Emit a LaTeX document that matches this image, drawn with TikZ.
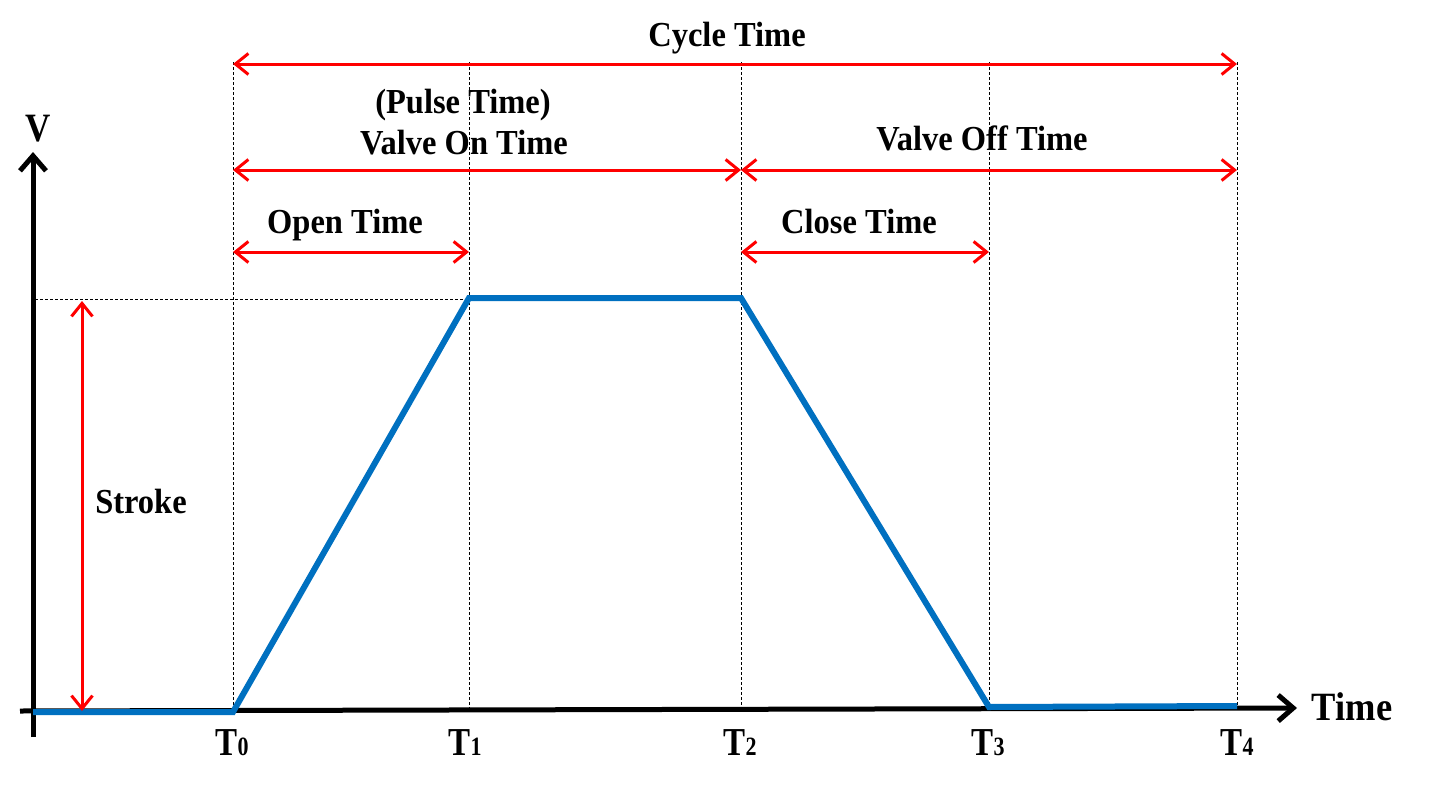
\documentclass[tikz,border=0pt]{standalone}
\usepackage{fontspec}
\usepackage{graphicx}
\setmainfont{Liberation Serif}
\usetikzlibrary{arrows.meta}
\tikzset{
  lbl/.style={font=\bfseries\fontsize{32.5}{36}\selectfont, inner sep=0pt, anchor=base},
  tlbl/.style={font=\bfseries\fontsize{33}{36}\selectfont, inner sep=0pt, anchor=base},
  dim/.style={draw=red, line width=3pt, {Straight Barb[length=13pt,width=21pt,line width=3pt]}-{Straight Barb[length=13pt,width=21pt,line width=3pt]}},
  guide/.style={draw=black, line width=1pt, dash pattern=on 3pt off 2pt},
  axis/.style={draw=black, line width=5pt, -{Straight Barb[length=15pt,width=26pt,line width=5pt]}},
  signal/.style={draw={rgb,255:red,0;green,112;blue,192}, line width=6pt, line join=miter},
}
\newcommand{\vs}[2][1.08]{\scalebox{1}[#1]{#2}}
\newcommand{\Tsub}[1]{\scalebox{1}[1.2]{T{\fontsize{22}{24}\selectfont #1}}}
\begin{document}
\begin{tikzpicture}[x=1pt,y=-1pt]
\useasboundingbox[fill=white] (0,0) rectangle (1438,787);
% key coordinates
\coordinate (O) at (33,712);
\coordinate (Ytop) at (33,152);
\coordinate (Ybot) at (33,737);
\coordinate (Xleft) at (20,711);
\coordinate (Xright) at (1297,708);
\coordinate (A0) at (233,712);
\coordinate (A1) at (469,298);
\coordinate (A2) at (741,298);
\coordinate (A3) at (989,707);
\coordinate (A4) at (1237,706);
% guides
\coordinate (g0t) at (233,62);
\coordinate (g0b) at (233,712);
\coordinate (g1t) at (469,62);
\coordinate (g1b) at (469,710);
\coordinate (g2t) at (741,62);
\coordinate (g2b) at (741,709);
\coordinate (g3t) at (989,62);
\coordinate (g3b) at (989,707);
\coordinate (g4t) at (1237,62);
\coordinate (g4b) at (1237,706);
\coordinate (hL) at (35,299);
\coordinate (hR) at (469,299);
\draw[guide] (g0t) -- (g0b);
\draw[guide] (g1t) -- (g1b);
\draw[guide] (g2t) -- (g2b);
\draw[guide] (g3t) -- (g3b);
\draw[guide] (g4t) -- (g4b);
\draw[guide] (hL) -- (hR);
% axes
\draw[axis] (Ybot) -- (Ytop);
\draw[axis] (Xleft) -- (Xright);
% signal
\draw[signal] (O) -- (A0) -- (A1) -- (A2) -- (A3) -- (A4);
% dimension arrows
\coordinate (c0) at (233,64); \coordinate (c4) at (1237,64);
\coordinate (v0) at (233,170); \coordinate (v2) at (741,170); \coordinate (v4) at (1237,170);
\coordinate (o0) at (233,252); \coordinate (o1) at (469,252);
\coordinate (k2) at (741,252); \coordinate (k3) at (989,252);
\coordinate (s1) at (82,301); \coordinate (s0) at (82,711);
\draw[dim] (c0) -- (c4);
\draw[dim] (v0) -- (v2);
\draw[dim] (v2) -- (v4);
\draw[dim] (o0) -- (o1);
\draw[dim] (k2) -- (k3);
\draw[dim] (s1) -- (s0);
% labels
\node[lbl] (cycle) at (727,46) {\vs{Cycle Time}};
\node[lbl] (pulse) at (463,113) {\vs{(Pulse Time)}};
\node[lbl] (von) at (464,154) {\vs{Valve On Time}};
\node[lbl] (voff) at (982,150) {\vs{Valve Off Time}};
\node[lbl] (open) at (345,233) {\vs{Open Time}};
\node[lbl] (close) at (859,233) {\vs{Close Time}};
\node[lbl] (stroke) at (141,513) {\vs{Stroke}};
\node[lbl, font=\bfseries\fontsize{35}{38}\selectfont] (V) at (38,141) {\vs[1.15]{V}};
\node[lbl, font=\bfseries\fontsize{36.5}{40}\selectfont] (time) at (1352,720) {\vs[1.1]{Time}};
\node[tlbl] (T0) at (232,755) {\Tsub{0}};
\node[tlbl] (T1) at (465,755) {\Tsub{1}};
\node[tlbl] (T2) at (740,755) {\Tsub{2}};
\node[tlbl] (T3) at (988,755) {\Tsub{3}};
\node[tlbl] (T4) at (1237,755) {\Tsub{4}};
\end{tikzpicture}
\end{document}
